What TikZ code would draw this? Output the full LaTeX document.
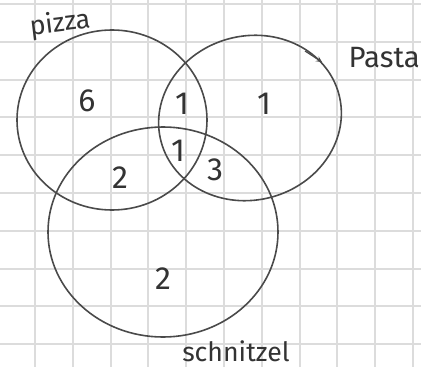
\documentclass[tikz,border=0pt]{standalone}
\usepackage{fontspec}
\setmainfont{Fira Sans}
\definecolor{pen}{HTML}{4A4A4A}
\definecolor{ink}{HTML}{333333}
\definecolor{gridline}{HTML}{DCDCDC}

\begin{document}
\begin{tikzpicture}[x=0.75pt, y=-0.75pt,
    ring/.style={draw=pen, line width=1.2pt},
    num/.style={text=ink, font=\fontsize{24}{26}\selectfont},
    lbl/.style={text=ink, font=\fontsize{20}{22}\selectfont}]
    \useasboundingbox[fill=white] (0,0) rectangle (421,367);
    % Paper grid
    \foreach \i in {0,...,10}
        \draw[gridline, line width=1.5pt] ({35+37.8*\i},0) -- ({35+37.8*\i},367);
    \foreach \j in {0,...,9}
        \draw[gridline, line width=1.5pt] (0,{4+37.8*\j}) -- (421,{4+37.8*\j});
    % Sets
    \draw[ring] (112,120) ellipse [x radius=95, y radius=90];
    \draw[ring, rotate around={15:(250,118)}] (250,118) ellipse [x radius=92, y radius=82];
    \draw[ring] (163,232) ellipse [x radius=115, y radius=105];
    % Set names
    \node[lbl, rotate=7] (pizza) at (60,24) {pizza};
    \node[lbl, anchor=west, font=\fontsize{22}{24}\selectfont] (pasta) at (344,58) {Pasta};
    \node[lbl] (schnitzel) at (236,351) {schnitzel};
    \coordinate (pastatip) at (322,62);
    \draw[pen, line width=0.9pt, ->, >=stealth] (pastatip) ++(-17,-11) -- (pastatip);
    % Counts
    \node[num] (onlypizza) at (87,101) {6};
    \node[num] (pizzapasta) at (182,104) {1};
    \node[num] (onlypasta) at (264,104) {1};
    \node[num] (all) at (178,151) {1};
    \node[num] (pizzaschn) at (120,178) {2};
    \node[num] (pastaschn) at (215,170) {3};
    \node[num] (onlyschn) at (163,279) {2};
\end{tikzpicture}
\end{document}
